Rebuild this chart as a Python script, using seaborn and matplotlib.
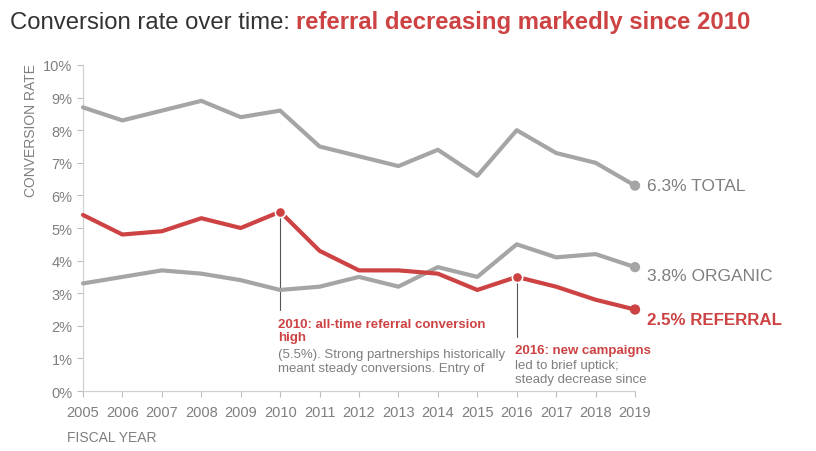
import matplotlib
matplotlib.use("Agg")
import matplotlib.pyplot as plt
import seaborn as sns
import pandas as pd
from matplotlib.ticker import FuncFormatter

years = list(range(2005, 2020))
total = [8.7, 8.3, 8.6, 8.9, 8.4, 8.6, 7.5, 7.2, 6.9, 7.4, 6.6, 8.0, 7.3, 7.0, 6.3]
referral = [5.4, 4.8, 4.9, 5.3, 5.0, 5.5, 4.3, 3.7, 3.7, 3.6, 3.1, 3.5, 3.2, 2.8, 2.5]
organic = [3.3, 3.5, 3.7, 3.6, 3.4, 3.1, 3.2, 3.5, 3.2, 3.8, 3.5, 4.5, 4.1, 4.2, 3.8]
yticks = list(range(0, 11))

GRAY = "#A5A5A5"
RED = "#CD4243"
TXT = "#7F7F7F"
DARK = "#333333"

sns.set_theme(style="white")
plt.rcParams['font.family'] = ['Liberation Sans', 'DejaVu Sans']

df = pd.DataFrame({"year": years, "TOTAL": total, "ORGANIC": organic, "REFERRAL": referral})
long = df.melt(id_vars="year", var_name="series", value_name="rate")

fig = plt.figure(figsize=(8.16, 4.52), dpi=100)
ax = fig.add_axes([0.1017, 0.1327, 0.6765, 0.7213])

sns.lineplot(data=long, x="year", y="rate", hue="series",
             palette={"TOTAL": GRAY, "ORGANIC": GRAY, "REFERRAL": RED},
             linewidth=3, legend=False, ax=ax, zorder=3)
for ln in ax.lines:
    ln.set_clip_on(False)

# end markers
for s, col in [("TOTAL", GRAY), ("ORGANIC", GRAY), ("REFERRAL", RED)]:
    ax.scatter([years[-1]], [df[s].iloc[-1]], s=55, color=col, zorder=4,
               edgecolor="none", clip_on=False)
# annotation markers
for yr in (2010, 2016):
    v = referral[years.index(yr)]
    ax.scatter([yr], [v], s=55, color=RED, zorder=5, edgecolor="white",
               linewidth=1.2, clip_on=False)

ax.set_xlim(2005, 2019)
ax.set_ylim(0, 10)
ax.set_xticks(years)
ax.set_yticks(yticks)
ax.yaxis.set_major_formatter(FuncFormatter(lambda v, p: f"{int(v)}%"))
ax.tick_params(axis="both", colors="#BFBFBF", labelcolor=TXT, labelsize=10.5,
               length=4, width=0.8, direction="out", bottom=True, left=True)
ax.tick_params(axis="x", pad=6)
for sp in ("top", "right"):
    ax.spines[sp].set_visible(False)
for sp in ("left", "bottom"):
    ax.spines[sp].set_color("#D0D0D0")
    ax.spines[sp].set_linewidth(0.9)
ax.set_xlabel("")
ax.set_ylabel("")
ax.grid(False)

fig.text(0.03, 0.858, "CONVERSION RATE", rotation=90, ha="left", va="top",
         color=TXT, fontsize=10)
fig.text(0.082, 0.015, "FISCAL YEAR", ha="left", va="bottom", color=TXT, fontsize=10)

# end labels
ax.text(2019.3, total[-1], f"{total[-1]}% TOTAL", color=TXT, fontsize=12.5,
        va="center", ha="left", clip_on=False)
ax.text(2019.3, organic[-1] - 0.25, f"{organic[-1]}% ORGANIC", color=TXT, fontsize=12.5,
        va="center", ha="left", clip_on=False)
ax.text(2019.3, referral[-1] - 0.3, f"{referral[-1]}% REFERRAL", color=RED, fontsize=12.2,
        fontweight="bold", va="center", ha="left", clip_on=False)

# annotation lines
ax.plot([2010, 2010], [5.5, 2.5], color="#555555", linewidth=0.8, zorder=2)
ax.plot([2016, 2016], [3.5, 1.66], color="#555555", linewidth=0.8, zorder=2)

ax.text(2009.95, 2.25, "2010: all-time referral conversion\nhigh", color=RED,
        fontsize=9.5, fontweight="bold", va="top", ha="left", linespacing=1.15)
ax.text(2009.95, 1.32, "(5.5%). Strong partnerships historically\nmeant steady conversions. Entry of",
        color=TXT, fontsize=9.5, va="top", ha="left", linespacing=1.2)
ax.text(2015.95, 1.45, "2016: new campaigns", color=RED, fontsize=9.5,
        fontweight="bold", va="top", ha="left")
ax.text(2015.95, 0.98, "led to brief uptick;\nsteady decrease since",
        color=TXT, fontsize=9.5, va="top", ha="left", linespacing=1.2)

fig.text(0.012, 0.95, "Conversion rate over time: ", color=DARK, fontsize=17.2,
         ha="left", va="center")
t1 = fig.texts[-1]
fig.canvas.draw()
bb = t1.get_window_extent(renderer=fig.canvas.get_renderer())
x1 = bb.x1 / fig.bbox.width
fig.text(x1, 0.95, "referral decreasing markedly since 2010", color=RED,
         fontsize=17.2, fontweight="bold", ha="left", va="center")

fig.savefig("out.png", dpi=100, facecolor="white")
